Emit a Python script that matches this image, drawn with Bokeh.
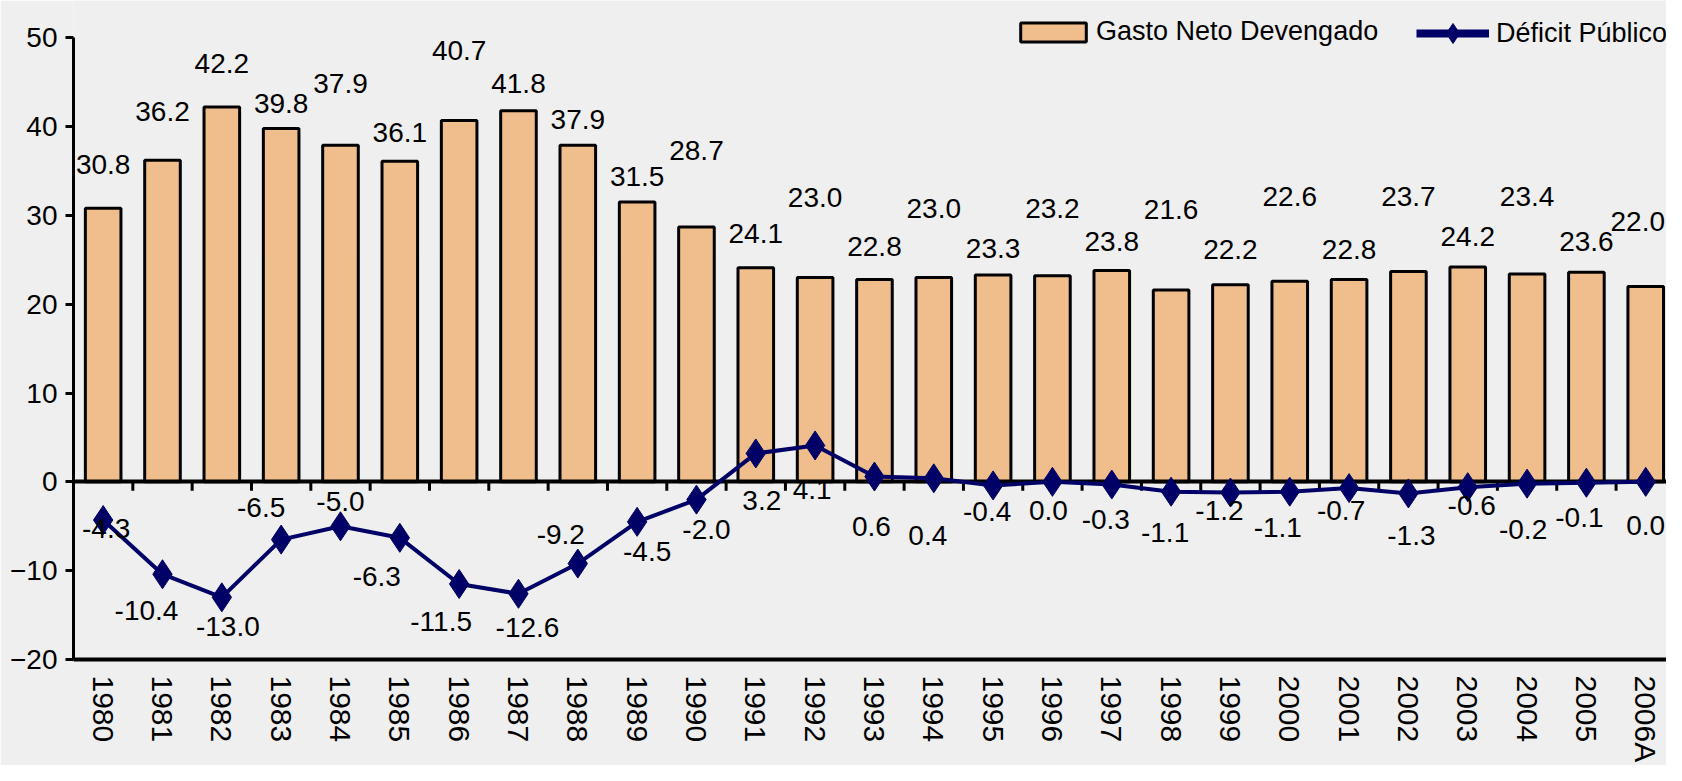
from bokeh.plotting import figure
from bokeh.models import ColumnDataSource, FixedTicker, Legend, LegendItem, Range1d
from bokeh.core.properties import value
from bokeh.embed import file_html
from bokeh.resources import INLINE

# ---------------- data ----------------
years = ["1980", "1981", "1982", "1983", "1984", "1985", "1986", "1987", "1988",
         "1989", "1990", "1991", "1992", "1993", "1994", "1995", "1996", "1997",
         "1998", "1999", "2000", "2001", "2002", "2003", "2004", "2005", "2006A"]
gasto = [30.8, 36.2, 42.2, 39.8, 37.9, 36.1, 40.7, 41.8, 37.9, 31.5, 28.7, 24.1,
         23.0, 22.8, 23.0, 23.3, 23.2, 23.8, 21.6, 22.2, 22.6, 22.8, 23.7, 24.2,
         23.4, 23.6, 22.0]
deficit = [-4.3, -10.4, -13.0, -6.5, -5.0, -6.3, -11.5, -12.6, -9.2, -4.5, -2.0,
           3.2, 4.1, 0.6, 0.4, -0.4, 0.0, -0.3, -1.1, -1.2, -1.1, -0.7, -1.3,
           -0.6, -0.2, -0.1, 0.0]
y_ticks = [-20, -10, 0, 10, 20, 30, 40, 50]
series_names = ["Gasto Neto Devengado", "Déficit Público"]

# label placement (screen px offsets, as in the original)
gasto_label_dx = [0] * 26 + [-8]
gasto_label_dy = [-44, -49, -44, -25, -62, -29, -70, -27, -26, -26, -76, -34, -80,
                  -33, -69, -26, -67, -29, -81, -35, -85, -30, -75, -30, -78, -31, -65]
deficit_label_dx = [3, -16, 6, -20, 0, -23, -18, 9, -17, 10, 10, 6, -3, -3, -6, -6,
                    -4, -6, -6, -11, -12, -8, 3, 4, -4, -7, 0]
deficit_label_dy = [8, 36, 29, -32, -25, 39, 37, 34, -29, 30, 30, 47, 44, 50, 57, 26,
                    29, 35, 41, 18, 36, 22, 42, 18, 46, 35, 44]

# ---------------- style ----------------
FONT = "Liberation Sans"
FS = "28px"
XFS = "30px"
LFS = "27px"
BG = "#EFEFEF"
BAR = "#F0BE8C"
NAVY = "#000066"
Y_TOP = 54.2   # room above the 50 tick for the legend

n = len(years)
idx = list(range(n))

src = ColumnDataSource(dict(
    x=idx, gasto=gasto, deficit=deficit,
    glab=[f"{v:.1f}" for v in gasto],
    dlab=[f"{v:.1f}" for v in deficit],
    gdx=gasto_label_dx, gdy=gasto_label_dy,
    ddx=deficit_label_dx, ddy=deficit_label_dy,
))

p = figure(width=1666, height=765,
           x_range=Range1d(-0.5, n - 0.65), y_range=Range1d(y_ticks[0], Y_TOP),
           output_backend="svg", toolbar_location=None,
           min_border_left=73, min_border_right=0, min_border_top=0, min_border_bottom=106,
           background_fill_color=BG, border_fill_color=BG, outline_line_color=None)
p.grid.visible = False

# x axis (bottom line at -20, labels vertical)
xa = p.xaxis[0]
xa.ticker = FixedTicker(ticks=idx)
xa.major_label_overrides = {i: y for i, y in enumerate(years)}
xa.major_label_orientation = "vertical"
xa.major_tick_line_color = None
xa.major_tick_out = 0
xa.major_tick_in = 0
xa.minor_tick_line_color = None
xa.axis_line_width = 4
xa.axis_line_color = "black"
xa.major_label_standoff = 16
xa.major_label_text_font = FONT
xa.major_label_text_font_size = XFS
xa.major_label_text_color = "black"

ya = p.yaxis[0]
ya.ticker = FixedTicker(ticks=y_ticks)
ya.bounds = (y_ticks[0], y_ticks[-1])
ya.axis_line_width = 3
ya.axis_line_color = "black"
ya.major_tick_line_width = 3
ya.major_tick_out = 8
ya.major_tick_in = 0
ya.minor_tick_line_color = None
ya.major_label_standoff = 8
ya.major_label_text_font = FONT
ya.major_label_text_font_size = FS
ya.major_label_text_color = "black"

# bars
bars = p.vbar(x="x", top="gasto", bottom=0, width=0.6, source=src,
              fill_color=BAR, line_color="black", line_width=3)

# zero line with category-boundary tick marks
p.hspan(y=[0], line_color="black", line_width=4)
bounds = [i + 0.5 for i in idx[:-1]]
p.segment(x0=bounds, y0=[0] * len(bounds), x1=bounds, y1=[-1.0] * len(bounds),
          line_color="black", line_width=3)

# deficit line
p.line(x="x", y="deficit", source=src, line_color=NAVY, line_width=4)
p.scatter(x="x", y="deficit", source=src, marker="diamond", size=29,
          fill_color=NAVY, line_color=NAVY)

# data labels
p.text(x="x", y="gasto", text="glab", source=src, x_offset="gdx", y_offset="gdy",
       text_align="center", text_baseline="middle", text_color="black",
       text_font=value(FONT), text_font_size=value(FS))
p.text(x="x", y="deficit", text="dlab", source=src, x_offset="ddx", y_offset="ddy",
       text_align="center", text_baseline="middle", text_color="black",
       text_font=value(FONT), text_font_size=value(FS))

# legend-only glyphs for the line series
dummy = ColumnDataSource(dict(x=[float("nan")], y=[float("nan")]))
l_dummy = p.line(x="x", y="y", source=dummy, line_color=NAVY, line_width=8)
m_dummy = p.scatter(x="x", y="y", source=dummy, marker="diamond", size=20,
                    fill_color=NAVY, line_color=NAVY)

def make_legend(items, loc, gw, gh, standoff):
    return Legend(items=items, location=loc, orientation="horizontal",
                  glyph_width=gw, glyph_height=gh, label_standoff=standoff,
                  padding=0, margin=0, spacing=0,
                  border_line_color=None, background_fill_alpha=0,
                  label_text_font=FONT, label_text_font_size=LFS,
                  label_text_color="black")

lg1 = make_legend([LegendItem(label=series_names[0], renderers=[bars])],
                  (939, 612), 82, 24, 2)
lg2 = make_legend([LegendItem(label=series_names[1], renderers=[l_dummy, m_dummy])],
                  (1343, 601), 73, 50, 7)
p.add_layout(lg1, "center")
p.add_layout(lg2, "center")

open("out.html", "w").write(file_html(p, INLINE))
